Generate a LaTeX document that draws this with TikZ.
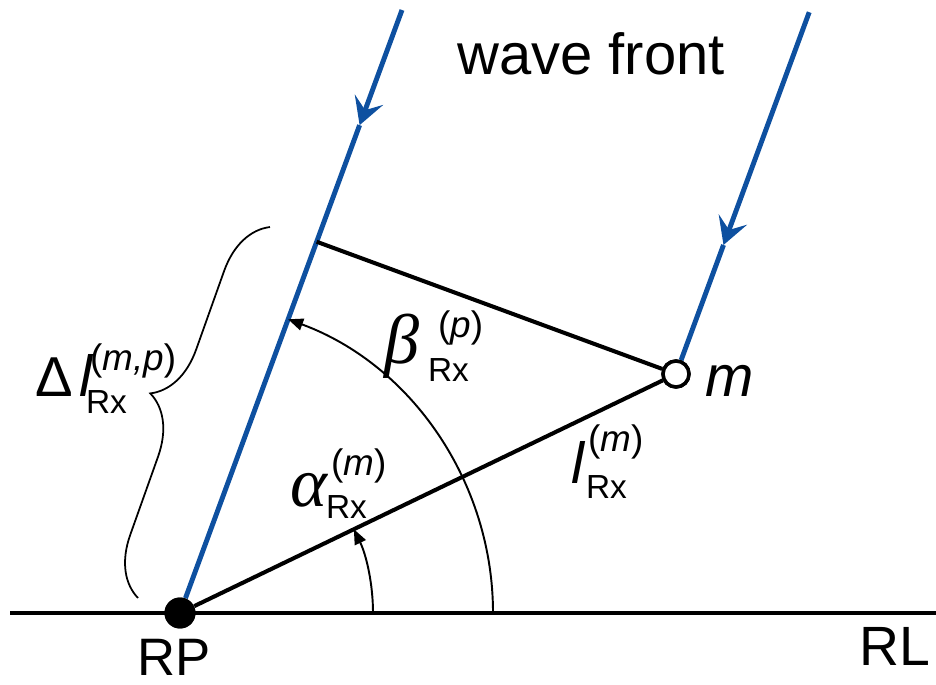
\documentclass[tikz,border=0pt]{standalone}
\usepackage{fontspec}
\setmainfont{Liberation Sans}
\newfontfamily\grk{Liberation Serif}
\usetikzlibrary{arrows.meta,decorations.pathreplacing,calc}
\definecolor{wblue}{RGB}{14,80,160}
\newcommand\fs[1]{\fontsize{#1}{#1}\selectfont}
\tikzset{
  blk/.style={line width=2.3pt},
  wline/.style={draw=wblue,line width=2.8pt},
  warrow/.style={-{Stealth[length=0.54cm,width=0.6cm,inset=0.22cm]}},
  anglearc/.style={line width=1.1pt,-{Triangle[length=0.3cm,width=0.24cm]}},
  lbl/.style={inner sep=0pt,outer sep=0pt,anchor=base west},
  sup/.style={lbl,font=\fs{21}},
  sub/.style={lbl,font=\fs{19}},
}
\begin{document}
\begin{tikzpicture}[x=0.02cm,y=-0.02cm]
\useasboundingbox (0,0) rectangle (936,685);
% points
\node[circle,fill=black,inner sep=0pt,minimum size=0.62cm] (RP) at (180,613) {};
\node[circle,draw,fill=white,line width=2pt,inner sep=0pt,minimum size=0.52cm] (m) at (676,374) {};
\coordinate (t1) at (402,10);
\coordinate (a1) at ($(RP.center)!0.809!(t1)$);
\coordinate (t2) at (809.2,12.2);
\coordinate (a2) at ($(m.center)!0.3566!(t2)$);
\coordinate (f) at ($(RP.center)!(m.center)!(t1)$);
\coordinate (rl0) at (10,613);
\coordinate (rl1) at (936,613);
\coordinate (b0) at (138,598);
\coordinate (b1) at (270,227);
% reference line
\draw[blk] (rl0) -- (rl1);
% wave front rays
\draw[wline,warrow] (t1) -- (a1);
\draw[wline] (a1) -- (RP);
\draw[wline,warrow] (t2) -- (a2);
\draw[wline] (a2) -- (m);
% black lines
\draw[blk] (RP) -- (m);
\draw[blk] (m) -- (f);
% angle arcs
\draw[anglearc] ($(RP.center)+(193,0)$) arc[start angle=0,end angle=-25.73,radius=193];
\draw[anglearc] ($(RP.center)+(313,0)$) arc[start angle=0,end angle=-69.79,radius=313];
% brace
\draw[line width=1pt,decorate,decoration={brace,amplitude=1.14cm}] (b0) -- (b1);
% redraw points on top
\node[circle,fill=black,inner sep=0pt,minimum size=0.62cm] at (RP.center) {};
\node[circle,draw,fill=white,line width=2pt,inner sep=0pt,minimum size=0.52cm] at (m.center) {};
% texts
\node[anchor=base,inner sep=0pt,font=\fs{33}] (wf) at (591,75) {wave front};
\node[anchor=base,inner sep=0pt,font=\fs{30}] (rpl) at (174,675) {RP};
\node[anchor=base,inner sep=0pt,font=\fs{31.5}] (rll) at (895,665) {RL};
\node[anchor=base,inner sep=0pt,font=\fs{33}\itshape] (ml) at (730,397) {m};
% Delta l label
\node[lbl,font=\fs{32}] (dD) at (35,397) {Δ};
\node[lbl,font=\fs{33}\itshape] (dl) at (79,397) {l};
\node[sup] (dsup) at (90,371) {(\textit{m,p})};
\node[sub] (dsub) at (86,414) {Rx};
% l label
\node[lbl,font=\fs{33}\itshape] (ll) at (571,483) {l};
\node[sup] (lsup) at (588,452) {(\textit{m})};
\node[sub] (lsub) at (586,499) {Rx};
% alpha label
\node[lbl,font=\fs{40}\grk\itshape] (al) at (290,506) {α};
\node[sup] (asup) at (331,476) {(\textit{m})};
\node[sub] (asub) at (326,519) {Rx};
% beta label
\node[lbl,font=\fs{40}\grk\itshape] (bl) at (384,364) {β};
\node[sup] (bsup) at (438,338) {(\textit{p})};
\node[sub] (bsub) at (428,382) {Rx};
\end{tikzpicture}
\end{document}
